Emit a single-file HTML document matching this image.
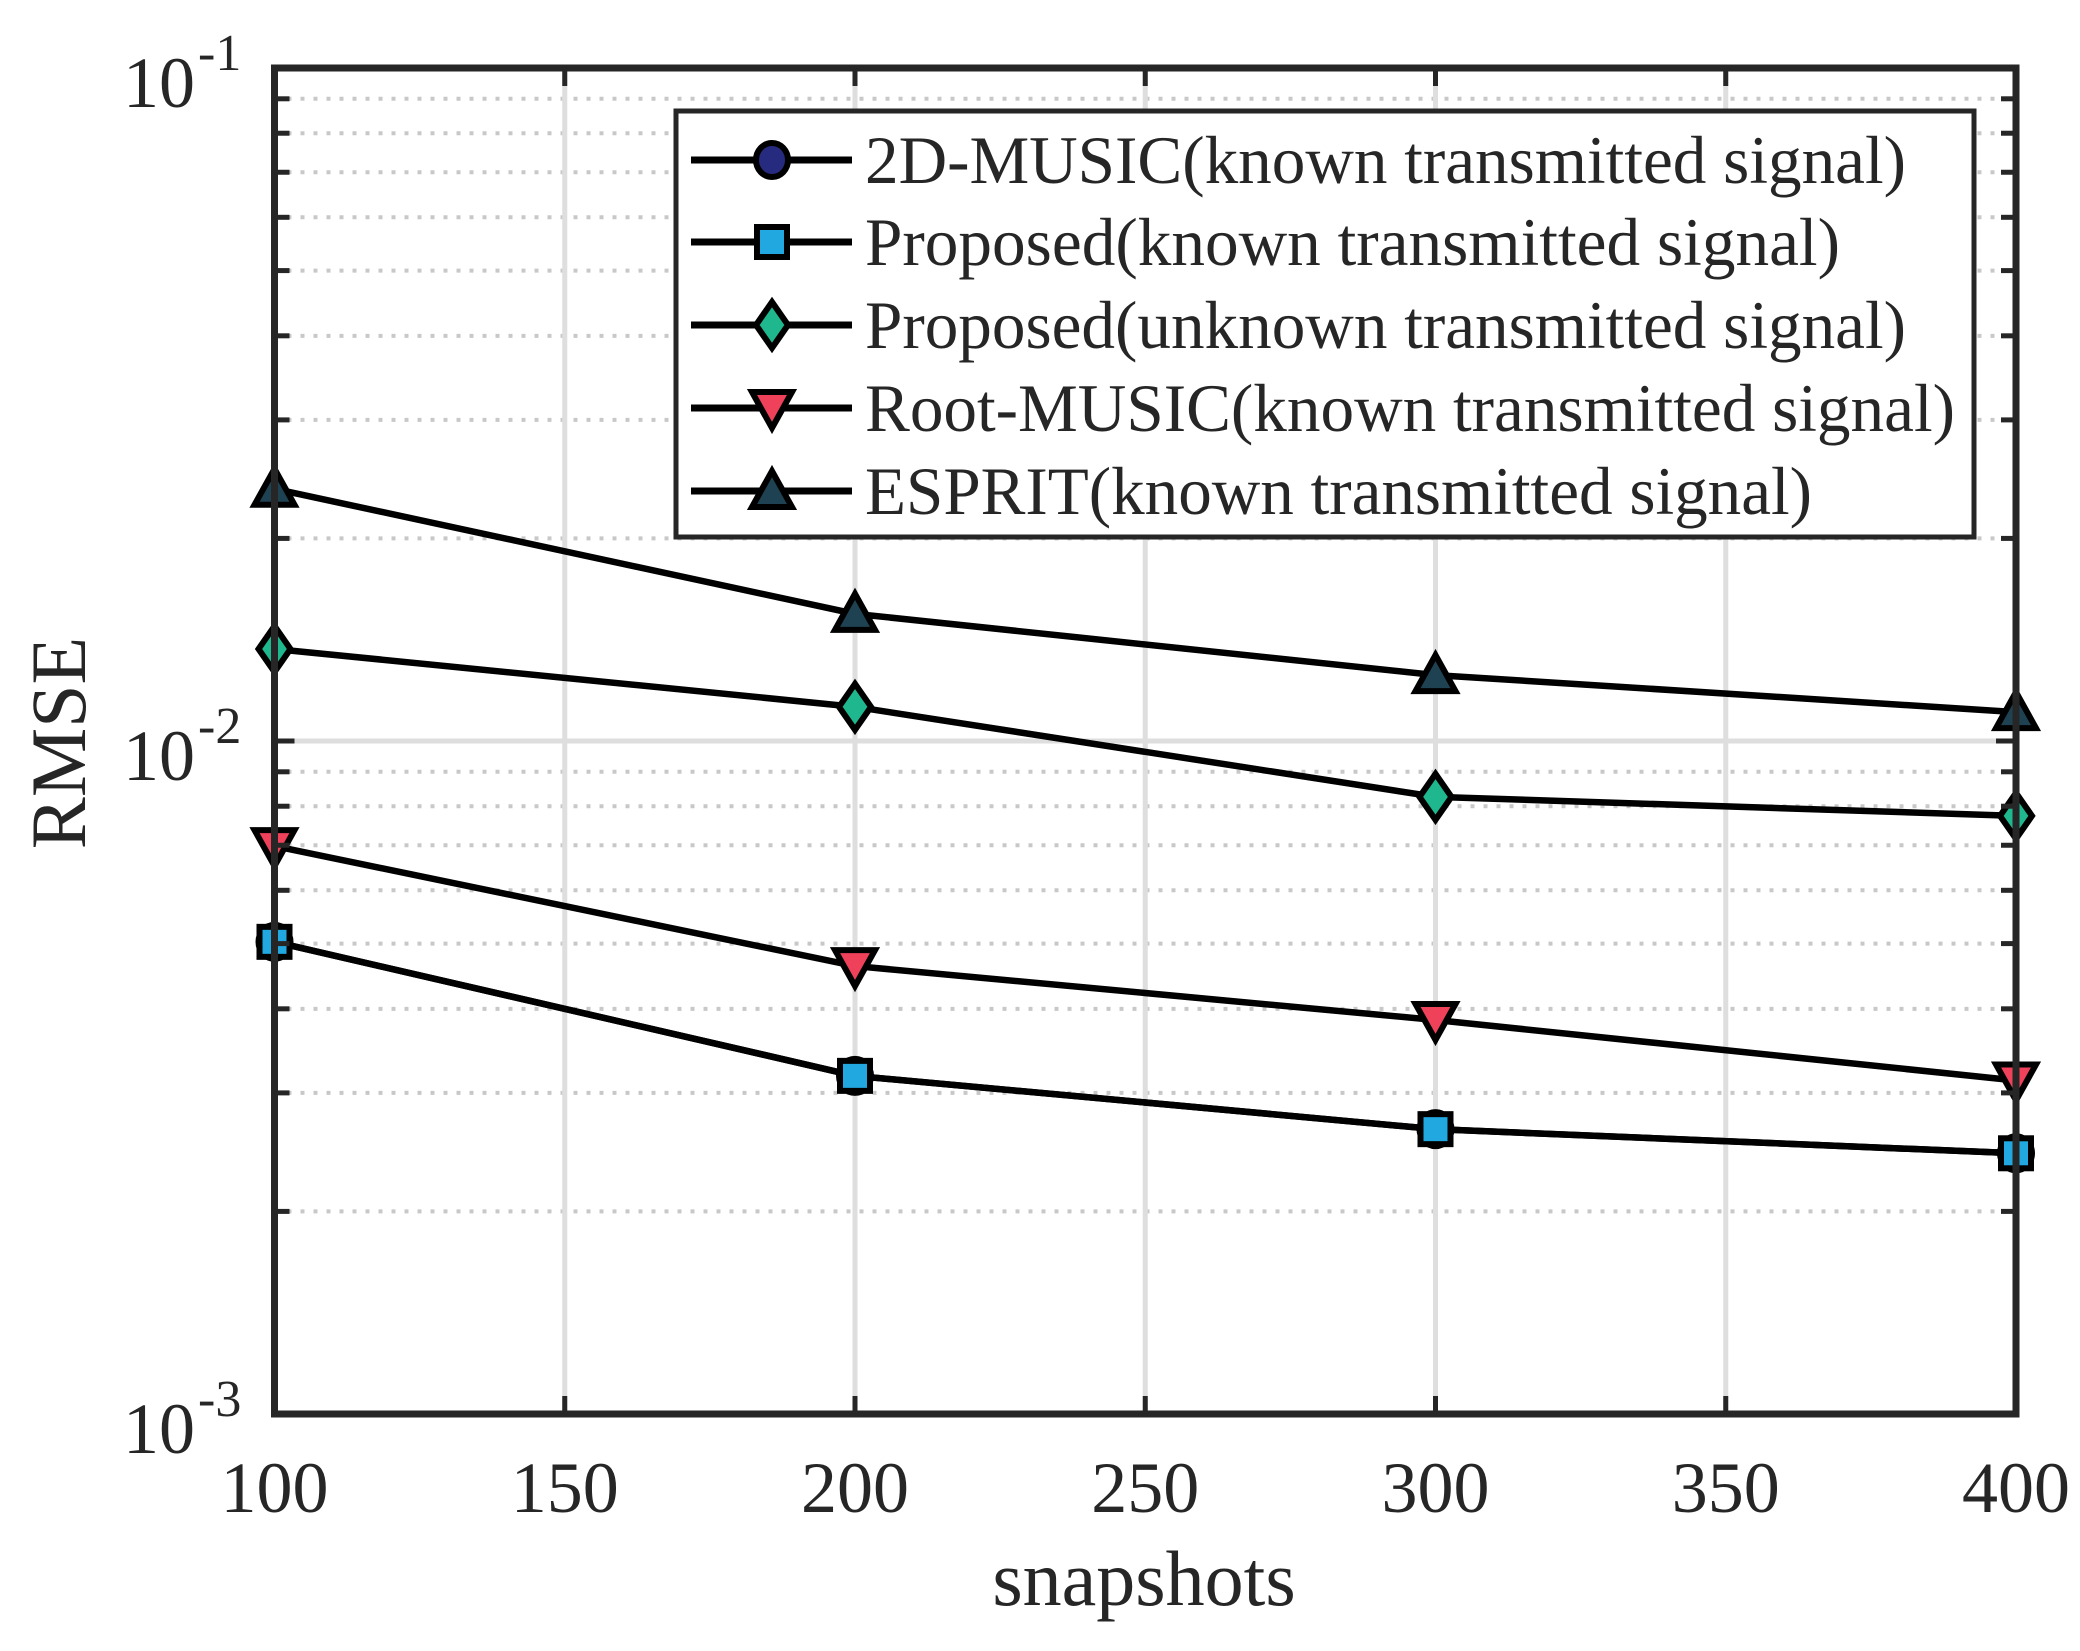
<!DOCTYPE html>
<html><head><meta charset="utf-8"><style>
html,body{margin:0;padding:0;background:#fff}
svg{display:block}
text{font-family:"Liberation Serif",serif;fill:#262626}
</style></head><body>
<svg id="chart" width="2080" height="1651" viewBox="0 0 2080 1651" xmlns="http://www.w3.org/2000/svg">
<rect width="2080" height="1651" fill="#fff"/>
<g id="grid"></g>
<g id="series"></g>
<g id="axes"></g>
<g id="legend"></g>
</svg>
<script>
const snapshots = [100, 200, 300, 400];
const music2d = [0.00503, 0.00318, 0.00265, 0.00244];
const proposedKnown = [0.00503, 0.00318, 0.00265, 0.00244];
const proposedUnknown = [0.0137, 0.01124, 0.00826, 0.00774];
const rootMusic = [0.00698, 0.00463, 0.00385, 0.00313];
const esprit = [0.0237, 0.01545, 0.01253, 0.01104];
const xTicks = [100, 150, 200, 250, 300, 350, 400];
const yDecades = [-3, -2, -1];
const legendLabels = ["2D-MUSIC(known transmitted signal)","Proposed(known transmitted signal)","Proposed(unknown transmitted signal)","Root-MUSIC(known transmitted signal)","ESPRIT(known transmitted signal)"];
const legendWidths = [1041, 975, 1041, 1090, 947];

const NS="http://www.w3.org/2000/svg";
const L=274.5,R=2016,T=68,B=1414;
const xs=v=>L+(v-100)/300*(R-L);
const ys=v=>T+(-1-Math.log10(v))/2*(B-T);
function mk(tag,attrs,parent){const e=document.createElementNS(NS,tag);for(const k in attrs)e.setAttribute(k,attrs[k]);parent.appendChild(e);return e;}
const grid=document.getElementById('grid'),axes=document.getElementById('axes'),ser=document.getElementById('series'),leg=document.getElementById('legend');

for(const d of [-3,-2]){for(let m=2;m<=9;m++){const y=ys(m*Math.pow(10,d));
 const g=mk('line',{x1:L,x2:R,y1:y,y2:y,stroke:'#c8c8c8','stroke-width':4,'stroke-dasharray':'4 9'},grid);
 
 for(const [a,b] of [[L,L+15],[R-15,R]]){const t=mk('line',{x1:a,x2:b,y1:y,y2:y,stroke:'#262626','stroke-width':5},axes);
 }}}
for(const d of yDecades){const y=ys(Math.pow(10,d));
 const g=mk('line',{x1:L,x2:R,y1:y,y2:y,stroke:'#dedede','stroke-width':5},grid);
 
 const t=mk('text',{x:195,y:y+39,'font-size':72,'text-anchor':'end'},axes);t.textContent='10';
 
 const s=mk('text',{x:198,y:y+2,'font-size':52},axes);s.textContent=String(d);
 
 for(const [a,b] of [[L,L+20],[R-20,R]]){const k=mk('line',{x1:a,x2:b,y1:y,y2:y,stroke:'#262626','stroke-width':5},axes);
 }}
for(const v of xTicks){const x=xs(v);
 const g=mk('line',{x1:x,x2:x,y1:T,y2:B,stroke:'#dedede','stroke-width':5},grid);
 
 for(const [a,b] of [[B-18,B],[T,T+18]]){const k=mk('line',{x1:x,x2:x,y1:a,y2:b,stroke:'#262626','stroke-width':5},axes);
 }
 const t=mk('text',{x:x,y:1512,'font-size':72,'text-anchor':'middle'},axes);t.textContent=v;
 }
const box=mk('rect',{x:L,y:T,width:R-L,height:B-T,fill:'none',stroke:'#262626','stroke-width':7},axes);

const xt=mk('text',{x:1144,y:1605,'font-size':78,'text-anchor':'middle'},axes);xt.textContent='snapshots';

const yt=mk('text',{x:0,y:0,'font-size':78,'text-anchor':'middle',transform:'translate(85,743) rotate(-90)'},axes);yt.textContent='RMSE';


function marker(type,x,y,fill,parent){
 const sw=6;let e;
 if(type==='circle')e=mk('ellipse',{cx:x,cy:y,rx:16,ry:17,fill,stroke:'#000','stroke-width':sw},parent);
 else if(type==='square')e=mk('rect',{x:x-15,y:y-15,width:30,height:30,fill,stroke:'#000','stroke-width':sw},parent);
 else if(type==='diamond')e=mk('polygon',{points:`${x},${y-23} ${x+16},${y} ${x},${y+23} ${x-16},${y}`,fill,stroke:'#000','stroke-width':sw},parent);
 else if(type==='down')e=mk('polygon',{points:`${x-20},${y-16} ${x+20},${y-16} ${x},${y+20}`,fill,stroke:'#000','stroke-width':sw},parent);
 else e=mk('polygon',{points:`${x-20},${y+16} ${x+20},${y+16} ${x},${y-20}`,fill,stroke:'#000','stroke-width':sw},parent);
 return e;}
const seriesDefs=[[music2d,'circle','#262b80','2d-music'],[proposedKnown,'square','#22a8e0','proposed-known'],[proposedUnknown,'diamond','#1fb88e','proposed-unknown'],[rootMusic,'down','#f0415a','root-music'],[esprit,'up','#1f4252','esprit']];
seriesDefs.forEach(([data,type,fill,name])=>{
 const pts=data.map((v,i)=>xs(snapshots[i])+','+ys(v)).join(' ');
 const pl=mk('polyline',{points:pts,fill:'none',stroke:'#000','stroke-width':6.5},ser);
 
});
seriesDefs.forEach(([data,type,fill,name])=>{
 data.forEach((v,i)=>{const m=marker(type,xs(snapshots[i]),ys(v),fill,ser);
 });
});
const lb=mk('rect',{x:676,y:111,width:1298,height:426,fill:'#fff',stroke:'#262626','stroke-width':5},leg);

const rows=[160,242,325,408,491];
seriesDefs.forEach(([d,type,fill,name],i)=>{const y=rows[i];
 const ln=mk('line',{x1:691,x2:852,y1:y,y2:y,stroke:'#000','stroke-width':7},leg);
 
 const m=marker(type,772,y,fill,leg);
 const t=mk('text',{x:865,y:y+23,'font-size':68,textLength:legendWidths[i],lengthAdjust:'spacingAndGlyphs'},leg);t.textContent=legendLabels[i];
 
});
</script>
</body></html>
